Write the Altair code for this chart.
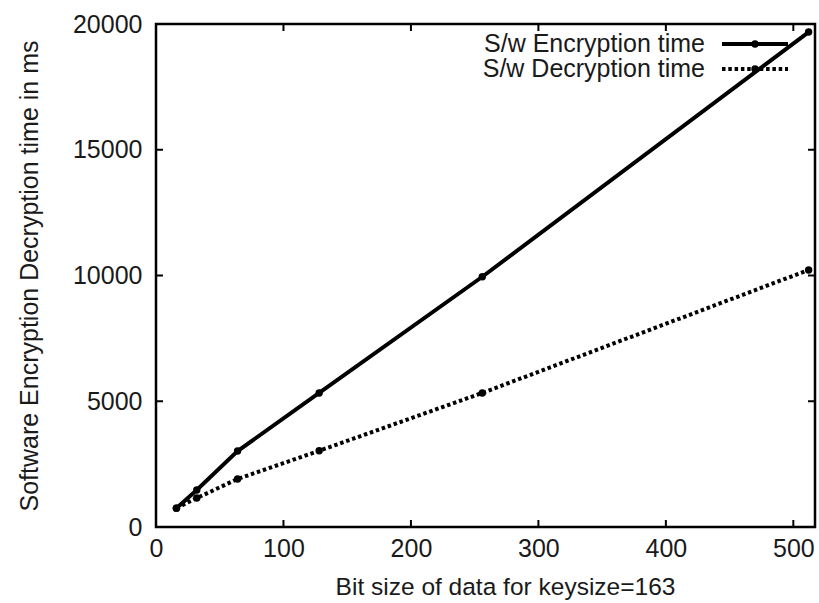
import altair as alt
import pandas as pd

# ---- data ----
bit_sizes = [16, 32, 64, 128, 256, 512]
enc_times = [750, 1470, 3020, 5330, 9950, 19680]
dec_times = [750, 1150, 1910, 3030, 5330, 10220]
series_names = ["S/w Encryption time", "S/w Decryption time"]
x_ticks = [0, 100, 200, 300, 400, 500]
y_ticks = [0, 5000, 10000, 15000, 20000]

W, H = 659, 503
FONT = "Liberation Sans"
FS = 25
TXT = "#1a1a1a"
LW = 4
DASH = [3.5, 2.8]

df = pd.DataFrame({
    "size": bit_sizes * 2,
    "time": enc_times + dec_times,
    "series": [series_names[0]] * len(bit_sizes) + [series_names[1]] * len(bit_sizes),
})

xscale = alt.Scale(domain=[0, 517], nice=False, zero=False)
yscale = alt.Scale(domain=[0, 20000], nice=False)

x_axis = alt.Axis(values=x_ticks, ticks=False, domain=False, grid=False, format="d",
                  labelFont=FONT, labelFontSize=FS, labelColor=TXT, labelPadding=9,
                  title="Bit size of data for keysize=163", titleFont=FONT,
                  titleFontSize=24.5, titleFontWeight="normal", titleColor=TXT,
                  titlePadding=14, titleX=349, titleAlign="center", labelFlush=False)
y_axis = alt.Axis(values=y_ticks, ticks=False, domain=False, grid=False, format="d",
                  labelFont=FONT, labelFontSize=FS, labelColor=TXT, labelPadding=14,
                  title="Software Encryption Decryption time in ms", titleFont=FONT,
                  titleFontSize=FS, titleFontWeight="normal", titleColor=TXT,
                  titlePadding=30, labelFlush=False)

base = alt.Chart(df)

enc_line = base.transform_filter(alt.datum.series == series_names[0]).mark_line(
    color="black", strokeWidth=LW).encode(
    x=alt.X("size:Q", scale=xscale, axis=x_axis),
    y=alt.Y("time:Q", scale=yscale, axis=y_axis),
)
dec_line = base.transform_filter(alt.datum.series == series_names[1]).mark_line(
    color="black", strokeWidth=LW, strokeDash=DASH, strokeCap="butt").encode(
    x=alt.X("size:Q", scale=xscale),
    y=alt.Y("time:Q", scale=yscale),
)
pts = base.mark_point(filled=True, color="black", size=55, opacity=1).encode(
    x=alt.X("size:Q", scale=xscale),
    y=alt.Y("time:Q", scale=yscale),
)

# inward ticks (gnuplot style, mirrored)
xt = pd.DataFrame({"t": x_ticks})
yt = pd.DataFrame({"t": y_ticks})
TL = 7
xt_bottom = alt.Chart(xt).mark_rule(color="black", strokeWidth=2).encode(
    x=alt.X("t:Q", scale=xscale), y=alt.value(H), y2=alt.value(H - TL))
xt_top = alt.Chart(xt).mark_rule(color="black", strokeWidth=2).encode(
    x=alt.X("t:Q", scale=xscale), y=alt.value(0), y2=alt.value(TL))
yt_left = alt.Chart(yt).mark_rule(color="black", strokeWidth=2).encode(
    y=alt.Y("t:Q", scale=yscale), x=alt.value(0), x2=alt.value(TL))
yt_right = alt.Chart(yt).mark_rule(color="black", strokeWidth=2).encode(
    y=alt.Y("t:Q", scale=yscale), x=alt.value(W), x2=alt.value(W - TL))

# manual legend (text left of sample, gnuplot style)
legend_layers = []
leg_y = [20, 45]
for i, name in enumerate(series_names):
    ldf = pd.DataFrame({"series": [name]})
    txt = alt.Chart(ldf).mark_text(align="right", baseline="middle", font=FONT,
                                   fontSize=FS, color=TXT).encode(
        text="series:N", x=alt.value(549), y=alt.value(leg_y[i]))
    rule_kwargs = dict(color="black", strokeWidth=LW)
    if i == 1:
        rule_kwargs.update(strokeDash=DASH, strokeCap="butt")
    rl = alt.Chart(ldf).mark_rule(**rule_kwargs).encode(
        x=alt.value(566), x2=alt.value(632), y=alt.value(leg_y[i]))
    pt = alt.Chart(ldf).mark_point(filled=True, color="black", size=55, opacity=1).encode(
        x=alt.value(599), y=alt.value(leg_y[i]))
    legend_layers += [txt, rl, pt]

chart = alt.layer(
    xt_bottom, xt_top, yt_left, yt_right, dec_line, enc_line, pts, *legend_layers
).properties(
    width=W, height=H,
    autosize=alt.AutoSizeParams(type="none"),
    padding={"left": 156, "top": 24, "right": 4, "bottom": 76},
    background="white",
).configure_view(
    stroke="black", strokeWidth=2.5
)

chart.save("out.html", embed_options={"renderer": "svg", "actions": False})
